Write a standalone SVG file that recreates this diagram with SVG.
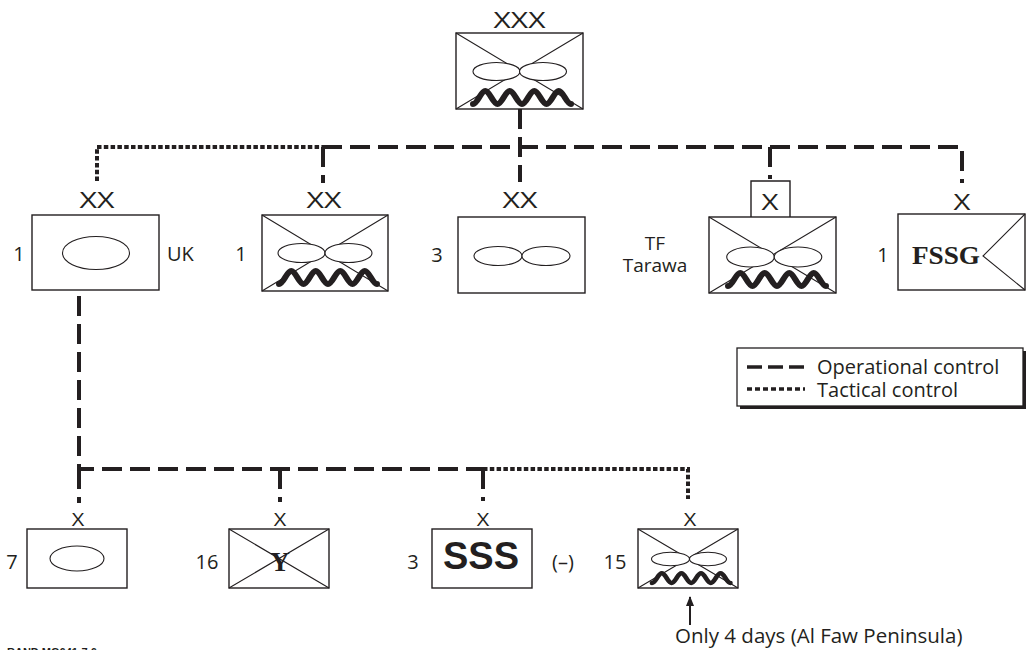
<svg xmlns="http://www.w3.org/2000/svg" xmlns:xlink="http://www.w3.org/1999/xlink" width="1027" height="650" viewBox="0 0 1027 650">
<style>
.box{fill:#fff;stroke:#231f20;stroke-width:1.4}
.diag{fill:none;stroke:#231f20;stroke-width:1.1}
.ell{fill:#fff;stroke:#231f20;stroke-width:1.1}
.wave{fill:none;stroke:#231f20;stroke-width:6;stroke-linecap:round;stroke-linejoin:round}
.lbl{font-family:"Open Sans","DejaVu Sans",sans-serif;fill:#231f20}
.ech{font-size:21px;text-anchor:middle}
.echs{font-size:18px;text-anchor:middle}
.side{font-size:20px}
.mid{text-anchor:middle}
.slab{font-family:"Liberation Serif","DejaVu Serif",serif;font-weight:bold;fill:#231f20;text-anchor:middle}
.op{fill:none;stroke:#231f20;stroke-width:4;stroke-dasharray:20 8}
.tc{fill:none;stroke:#231f20;stroke-width:4;stroke-dasharray:4.5 2.3}
</style>
<defs>
<path id="wave" class="wave" d="M0 16 C4.5 16 7.75 3 12.25 3 S20 16 24.5 16 S32.25 3 36.75 3 S44.5 16 49 16 S56.75 3 61.25 3 S69 16 73.5 16 S81.25 3 85.75 3 S93.5 16 98 16"/>
<marker id="ah" markerWidth="10" markerHeight="10" refX="9" refY="4" orient="auto" markerUnits="userSpaceOnUse">
<path d="M0 0 L10 4 L0 8 z" fill="#231f20"/>
</marker>
</defs>
<rect width="1027" height="650" fill="#fff"/>

<g id="connectors">
<path class="op" d="M520 109 V182"/>
<path class="tc" d="M97 181 V147 H322"/>
<path class="op" d="M322 147 H962 V183"/>
<path class="op" d="M323 147 V183"/>
<path class="op" d="M770 147 V179"/>
<path class="op" d="M79 296 V469 H483"/>
<path class="op" d="M79 469 V503"/>
<path class="op" d="M280 469 V502"/>
<path class="op" d="M483 469 V501"/>
<path class="tc" d="M483 469 H688 V499"/>
<line x1="690" y1="625" x2="690" y2="597" stroke="#231f20" stroke-width="2" marker-end="url(#ah)"/>
</g>

<g id="n-xxx">
<text class="lbl ech" x="519.5" y="28" textLength="52" lengthAdjust="spacingAndGlyphs">XXX</text>
<rect class="box" x="456" y="33" width="127" height="76"/>
<path class="diag" d="M456 33 L583 109 M583 33 L456 109"/>
<ellipse class="ell" cx="496.5" cy="71.5" rx="23.5" ry="9"/>
<ellipse class="ell" cx="543" cy="71.5" rx="23.5" ry="9"/>
<use xlink:href="#wave" transform="translate(473 88)"/>
</g>

<g id="n-1uk">
<text class="lbl ech" x="97" y="208" textLength="35" lengthAdjust="spacingAndGlyphs">XX</text>
<rect class="box" x="32" y="215" width="127" height="75"/>
<ellipse class="ell" cx="96" cy="253" rx="33.5" ry="16.5"/>
<text class="lbl side mid" x="19" y="261">1</text>
<text class="lbl side" x="167" y="261">UK</text>
</g>

<g id="n-1xx">
<text class="lbl ech" x="324" y="208" textLength="35" lengthAdjust="spacingAndGlyphs">XX</text>
<rect class="box" x="262" y="215" width="126" height="76"/>
<path class="diag" d="M262 215 L388 291 M388 215 L262 291"/>
<ellipse class="ell" cx="301.5" cy="253" rx="23.5" ry="9.5"/>
<ellipse class="ell" cx="348.5" cy="253" rx="23.5" ry="9.5"/>
<use xlink:href="#wave" transform="translate(279 268)"/>
<text class="lbl side mid" x="241" y="261">1</text>
</g>

<g id="n-3xx">
<text class="lbl ech" x="520" y="208" textLength="35" lengthAdjust="spacingAndGlyphs">XX</text>
<rect class="box" x="458" y="217" width="127" height="76"/>
<ellipse class="ell" cx="498" cy="256" rx="24" ry="9.5"/>
<ellipse class="ell" cx="546" cy="256" rx="24" ry="9.5"/>
<text class="lbl side mid" x="437" y="262">3</text>
</g>

<g id="n-tarawa">
<path class="box" d="M751 217 V181 H790 V217"/>
<text class="lbl ech" x="770" y="210" textLength="17" lengthAdjust="spacingAndGlyphs">X</text>
<rect class="box" x="709" y="217" width="127" height="76"/>
<path class="diag" d="M709 217 L836 293 M836 217 L709 293"/>
<ellipse class="ell" cx="750.5" cy="257" rx="23.8" ry="10"/>
<ellipse class="ell" cx="798" cy="257" rx="23.8" ry="10"/>
<use xlink:href="#wave" transform="translate(728 270)"/>
<text class="lbl mid" x="655" y="250" font-size="19">TF</text>
<text class="lbl mid" x="655" y="272" font-size="19">Tarawa</text>
</g>

<g id="n-fssg">
<text class="lbl ech" x="962" y="210" textLength="17" lengthAdjust="spacingAndGlyphs">X</text>
<rect class="box" x="898" y="214" width="127" height="76"/>
<path class="diag" d="M1025 214 L983 256 L1025 290"/>
<text class="slab" x="946" y="264" font-size="25" textLength="68" lengthAdjust="spacingAndGlyphs">FSSG</text>
<text class="lbl side mid" x="883" y="262">1</text>
</g>

<g id="legend">
<rect x="740" y="351" width="286" height="58" fill="#231f20"/>
<rect x="737" y="348" width="286" height="58" fill="#fff" stroke="#231f20" stroke-width="1.3"/>
<line x1="747" y1="367" x2="805" y2="367" stroke="#231f20" stroke-width="3.5" stroke-dasharray="15 6"/>
<line x1="747" y1="389" x2="805" y2="389" stroke="#231f20" stroke-width="3.5" stroke-dasharray="5 3"/>
<text class="lbl" x="817" y="374" font-size="20">Operational control</text>
<text class="lbl" x="817" y="397" font-size="20">Tactical control</text>
</g>

<g id="n-7">
<text class="lbl echs" x="78" y="526" textLength="12.5" lengthAdjust="spacingAndGlyphs">X</text>
<rect class="box" x="27" y="529" width="100" height="59"/>
<ellipse class="ell" cx="77" cy="558.5" rx="27" ry="12.5"/>
<text class="lbl side mid" x="12" y="569">7</text>
</g>

<g id="n-16">
<text class="lbl echs" x="280" y="526" textLength="12.5" lengthAdjust="spacingAndGlyphs">X</text>
<rect class="box" x="229" y="529" width="100" height="59"/>
<path class="diag" d="M229 529 L329 588 M329 529 L229 588"/>
<text class="slab" x="280" y="571" font-size="27">Y</text>
<text class="lbl side mid" x="207" y="569">16</text>
</g>

<g id="n-3sss">
<text class="lbl echs" x="483" y="526" textLength="12.5" lengthAdjust="spacingAndGlyphs">X</text>
<rect class="box" x="432" y="529" width="100" height="59"/>
<text x="481" y="569" font-family="'Liberation Sans',Arial,sans-serif" font-weight="bold" font-size="38" fill="#231f20" text-anchor="middle">SSS</text>
<text class="lbl side mid" x="413" y="569">3</text>
<text class="lbl side mid" x="563" y="569">(–)</text>
</g>

<g id="n-15">
<text class="lbl echs" x="690" y="526" textLength="12.5" lengthAdjust="spacingAndGlyphs">X</text>
<rect class="box" x="638" y="529" width="100" height="59"/>
<path class="diag" d="M638 529 L738 588 M738 529 L638 588"/>
<ellipse class="ell" cx="670.5" cy="559" rx="19" ry="6.8"/>
<ellipse class="ell" cx="708" cy="559" rx="18.5" ry="6.8"/>
<use xlink:href="#wave" transform="translate(652 571) scale(0.8 0.75)"/>
<text class="lbl side mid" x="615" y="569">15</text>
</g>

<text class="lbl" x="675" y="643" font-size="20.5">Only 4 days (Al Faw Peninsula)</text>
<text x="7" y="656" font-family="'Liberation Sans',Arial,sans-serif" font-weight="bold" font-size="11" fill="#231f20">RAND MG641-7.6</text>
</svg>
